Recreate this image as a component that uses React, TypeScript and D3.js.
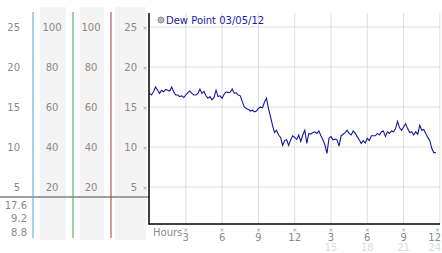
import React from "react";
import * as d3 from "d3";

const dewPoint: number[] = [
  16.7, 16.5, 16.9, 17.5, 17.1, 16.7,
  17.1, 16.9, 17.2, 17.1, 17.0, 17.5,
  16.9, 16.5, 16.5, 16.3, 16.4, 16.2,
  16.5, 16.8, 17.0, 16.7, 16.5, 16.5,
  16.7, 17.25, 16.7, 16.95, 16.4, 16.1,
  16.3, 15.9, 16.2, 17.1, 16.3, 16.4,
  16.1, 16.6, 16.9, 16.8, 16.85, 17.25,
  16.7, 16.8, 16.5, 16.4, 15.7, 15.0,
  14.8, 14.7, 14.5, 14.6, 14.4, 14.5,
  14.8, 15.0, 14.9, 15.6, 16.1, 14.8,
  13.8, 12.7, 11.8, 12.1, 11.5, 11.2,
  10.2, 10.8, 10.9, 10.2, 10.9, 11.4,
  11.2, 10.95, 11.5, 10.7, 11.5, 12.1,
  10.45, 11.7, 11.6, 11.8, 11.9, 11.7,
  12.0, 11.4, 10.9, 10.25, 9.2, 11.1,
  11.3, 10.9, 11.0, 10.9, 10.1, 11.4,
  11.6, 11.8, 12.1, 11.7, 11.5, 12.0,
  11.75, 11.3, 10.9, 10.45, 10.8, 10.5,
  11.1, 10.8, 11.4, 11.4, 11.4, 11.7,
  11.5, 11.9, 12.0, 11.3, 11.9, 11.7,
  12.0, 11.9, 12.3, 13.2, 12.4, 12.1,
  12.5, 12.9, 12.3, 11.8, 11.9, 11.5,
  11.9, 11.6, 12.7, 12.1, 12.2, 11.7,
  11.2, 10.8, 9.8, 9.3, 9.3,
];
const stepMinutes = 10;

const tempTicks: number[] = [25, 20, 15, 10, 5];
const humidityTicks: number[] = [100, 80, 60, 40, 20];
const summaryValues: string[] = ["17.6", "9.2", "8.8"];
const hourTicks: number[] = [3, 6, 9, 12, 15, 18, 21, 24];
const hourLabels: string[] = ["3", "6", "9", "12", "3", "6", "9", "12"];
const hourLabels24: string[] = ["", "", "", "", "15", "18", "21", "24"];
const legendLabel = "Dew Point 03/05/12";

const FONT = "'DejaVu Sans', Verdana, sans-serif";

export default function App() {
  const x = d3.scaleLinear().domain([0, 24]).range([149.5, 439.9]);
  const y = d3.scaleLinear().domain([25, 5]).range([27, 187]);
  const top = 13;
  const bottom = 224;
  const left = 149;
  const right = 440;

  const line = d3
    .line<number>()
    .x((_, i) => x((i * stepMinutes) / 60))
    .y((d) => y(d));

  const mark = (cx: number, cy: number, key: string) => (
    <text key={key} x={cx} y={cy} fontSize={6} fill="#999" textAnchor="middle" dominantBaseline="central" fontFamily={FONT}>
      ×
    </text>
  );

  const last = hourTicks.length - 1;

  return (
    <svg width={442} height={253} style={{ position: "absolute", left: 0, top: 0, background: "#fff" }}>
      {/* grey columns */}
      <rect x={40} y={7} width={26} height={233} fill="#f4f4f4" />
      <rect x={80} y={7} width={24} height={233} fill="#f4f4f4" />
      <rect x={115} y={7} width={31} height={233} fill="#f4f4f4" />

      {/* left labels */}
      {tempTicks.map((t, i) => (
        <g key={"l" + i} fontFamily={FONT} fontSize={10} fill="#8a8a8a" dominantBaseline="central">
          <text x={20} y={y(t)} textAnchor="end">{t}</text>
          <text x={52} y={y(t)} textAnchor="middle">{humidityTicks[i]}</text>
          <text x={91} y={y(t)} textAnchor="middle">{humidityTicks[i]}</text>
          <text x={137} y={y(t)} textAnchor="end">{t}</text>
        </g>
      ))}
      {tempTicks.map((t, i) => mark(145, y(t), "ym" + i))}

      {/* horizontal gray separator */}
      <line x1={0} x2={left} y1={197} y2={197} stroke="#a0a0a0" strokeWidth={2} />

      {/* coloured vertical lines */}
      <line x1={33} x2={33} y1={12} y2={238} stroke="#4aa6d6" strokeWidth={1} />
      <line x1={73} x2={73} y1={12} y2={238} stroke="#3aa63a" strokeWidth={1} />
      <line x1={111} x2={111} y1={12} y2={238} stroke="#b03434" strokeWidth={1} />

      {/* summary values */}
      {summaryValues.map((v, i) => (
        <text key={"s" + i} x={27} y={205 + i * 13.5} textAnchor="end" dominantBaseline="central" fontFamily={FONT} fontSize={10} fill="#8a8a8a">
          {v}
        </text>
      ))}

      {/* grid */}
      {tempTicks.map((t, i) => (
        <line key={"gh" + i} x1={left} x2={right} y1={y(t)} y2={y(t)} stroke="#dedede" strokeWidth={1} />
      ))}
      {hourTicks.map((h, i) => (
        <line key={"gv" + i} x1={x(h)} x2={x(h)} y1={top} y2={bottom} stroke="#dedede" strokeWidth={1} />
      ))}

      {/* data line */}
      <path d={line(dewPoint) || ""} fill="none" stroke="#1616a0" strokeWidth={1.1} />

      {/* axes */}
      <line x1={left} x2={left} y1={top} y2={bottom + 0.75} stroke="#000" strokeWidth={1.5} />
      <line x1={left} x2={right} y1={bottom} y2={bottom} stroke="#000" strokeWidth={1.5} />

      {/* legend */}
      <circle cx={161} cy={20} r={3} fill="#b8b8b8" stroke="#8a8a8a" strokeWidth={1} />
      <text x={166} y={20} dominantBaseline="central" fontFamily={FONT} fontSize={10} fill="#1a1aa8">
        {legendLabel}
      </text>

      {/* x axis labels */}
      <text x={153} y={232} dominantBaseline="central" fontFamily={FONT} fontSize={10} fill="#8a8a8a">
        Hours
      </text>
      {hourTicks.map((h, i) => {
        const isLast = i === last;
        const lx = isLast ? 441 : x(h);
        const anchor = isLast ? "end" : "middle";
        return (
          <g key={"xl" + i}>
            {mark(isLast ? 437.5 : x(h), 229, "xm" + i)}
            <text x={lx} y={237} textAnchor={anchor} dominantBaseline="central" fontFamily={FONT} fontSize={10} fill="#8a8a8a">
              {hourLabels[i]}
            </text>
            <text x={lx} y={247} textAnchor={anchor} dominantBaseline="central" fontFamily={FONT} fontSize={10} fill="#dcdcdc">
              {hourLabels24[i]}
            </text>
          </g>
        );
      })}
    </svg>
  );
}
